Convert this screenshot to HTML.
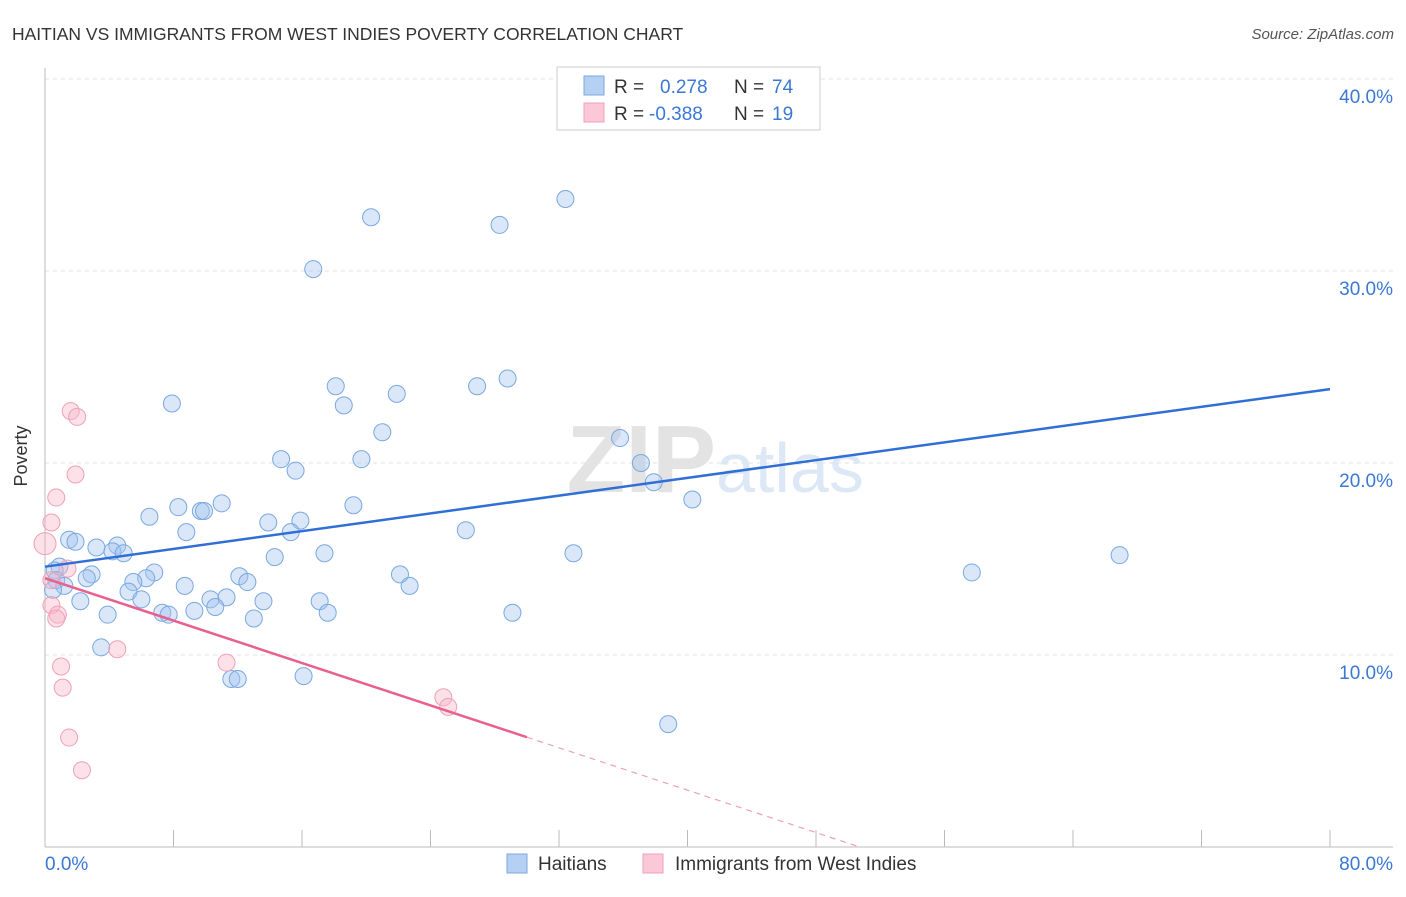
<!DOCTYPE html>
<html><head><meta charset="utf-8"><style>
body{margin:0;background:#fff;font-family:"Liberation Sans",sans-serif;}
svg text{font-family:"Liberation Sans",sans-serif;}
</style></head><body>
<svg id="chart" width="1406" height="892" viewBox="0 0 1406 892">
<text x="12" y="40" font-size="17.5" fill="#333">HAITIAN VS IMMIGRANTS FROM WEST INDIES POVERTY CORRELATION CHART</text>
<text x="1394" y="39" font-size="15" fill="#555" text-anchor="end" font-style="italic">Source: ZipAtlas.com</text>
<text x="716" y="492" font-size="96" fill="#e3e3e3" text-anchor="end" font-family="Liberation Serif" font-weight="bold">ZIP</text>
<text x="716" y="492" font-size="70" fill="#dde8f6">atlas</text>
<g id="grid"></g>
<g id="axes"></g>
<g id="marks"></g>
<g>
<rect x="557" y="67" width="263" height="63" fill="#fff" stroke="#ccc"/>
<rect x="584" y="76" width="20" height="19" fill="#b6d0f4" stroke="#7aa8e0"/>
<rect x="584" y="103" width="20" height="19" fill="#fac8d6" stroke="#f0a0b8"/>
<text x="614" y="93" font-size="19" fill="#333">R = </text><text x="660" y="93" font-size="19" fill="#3a78d4">0.278</text>
<text x="734" y="93" font-size="19" fill="#333">N = </text><text x="772" y="93" font-size="19" fill="#3a78d4">74</text>
<text x="614" y="120" font-size="19" fill="#333">R = </text><text x="649" y="120" font-size="19" fill="#3a78d4">-0.388</text>
<text x="734" y="120" font-size="19" fill="#333">N = </text><text x="772" y="120" font-size="19" fill="#3a78d4">19</text>
</g>
<g>
<rect x="507" y="854" width="20" height="19" fill="#b6d0f4" stroke="#7aa8e0"/>
<text x="538" y="870" font-size="19" fill="#333">Haitians</text>
<rect x="643" y="854" width="20" height="19" fill="#fac8d6" stroke="#f0a0b8"/>
<text x="675" y="870" font-size="19" fill="#333">Immigrants from West Indies</text>
</g>
<text x="27" y="456" font-size="18" fill="#333" text-anchor="middle" transform="rotate(-90 27 456)">Poverty</text>
</svg>
<script>
const blueX=[32.4,20.3,28.3,16.7,18.1,28.8,26.9,21.9,18.6,7.9,21.0,35.8,14.7,19.7,37.1,15.6,37.9,40.3,11.0,8.3,9.7,9.9,19.2,6.5,13.9,15.9,15.3,26.2,8.8,1.5,1.9,3.2,4.5,4.2,4.9,17.4,32.9,66.9,14.3,0.9,0.6,2.9,6.8,2.6,6.3,12.1,22.1,57.7,5.5,0.7,12.6,1.2,8.7,22.7,0.5,5.2,2.2,6.0,10.3,11.3,13.6,17.1,10.6,7.3,7.7,9.3,3.9,17.6,29.1,13.0,3.5,11.6,12.0,16.1,38.8];
const blueY=[33.75,32.8,32.4,30.1,24.0,24.4,24.0,23.6,23.0,23.1,21.6,21.3,20.2,20.2,20.0,19.6,19.0,18.1,17.9,17.7,17.5,17.5,17.8,17.2,16.9,17.0,16.4,16.5,16.4,16.0,15.9,15.6,15.7,15.4,15.3,15.3,15.3,15.2,15.1,14.6,14.4,14.2,14.3,14.0,14.0,14.1,14.2,14.3,13.8,13.9,13.8,13.6,13.6,13.6,13.4,13.3,12.8,12.9,12.9,13.0,12.8,12.8,12.5,12.2,12.1,12.3,12.1,12.2,12.2,11.9,10.4,8.75,8.75,8.9,6.4];
const pinkX=[1.6,2.0,1.9,0.7,0.4,0.0,1.4,0.4,0.4,0.8,0.7,4.5,11.3,1.0,1.1,24.8,25.1,1.5,2.3];
const pinkY=[22.7,22.4,19.4,18.2,16.9,15.8,14.5,13.9,12.6,12.1,11.9,10.3,9.6,9.4,8.3,7.8,7.3,5.7,4.0];
const blueTrend=[14.6,23.85];
const pinkTrend=[14.0,-0.276];
const yTicks=[10,20,30,40];
const xTicks=[0,8,16,24,32,40,48,56,64,72,80];
const NS="http://www.w3.org/2000/svg";
const sx=v=>45+v*1285/80, sy=v=>847-v*19.2;
function mk(tag,attrs,parent){const e=document.createElementNS(NS,tag);for(const k in attrs)e.setAttribute(k,attrs[k]);document.getElementById(parent).appendChild(e);return e;}
yTicks.forEach(t=>{
 const g=mk('line',{x1:45,x2:1393,y1:sy(t),y2:sy(t),stroke:'#e2e2e2','stroke-dasharray':'4,4'},'grid');
 
 
 const l=mk('text',{x:1393,y:sy(t)+24,'font-size':19,fill:'#3a78d4','text-anchor':'end'},'axes');
 l.textContent=t.toFixed(1)+'%';
 
 
});
mk('line',{x1:45,x2:45,y1:68,y2:847,stroke:'#bbb'},'axes');
mk('line',{x1:45,x2:1393,y1:847,y2:847,stroke:'#bbb'},'axes');
xTicks.forEach(t=>{
 const k=mk('line',{x1:sx(t),x2:sx(t),y1:830,y2:847,stroke:'#bbb'},'axes');
 
 
});
[[0,'start',45],[80,'end',1393]].forEach(([v,a,x])=>{
 const l=mk('text',{x:x,y:870,'font-size':19,fill:'#3a78d4','text-anchor':a},'axes');
 l.textContent=v.toFixed(1)+'%';
 
 
});
blueX.forEach((x,i)=>{
 const c=mk('circle',{cx:sx(x),cy:sy(blueY[i]),r:8.5,fill:'rgba(160,196,240,0.4)',stroke:'#7aa8e0','stroke-width':1},'marks');
 
 
});
pinkX.forEach((x,i)=>{
 const c=mk('circle',{cx:sx(x),cy:sy(pinkY[i]),r:i==5?11:8.5,fill:'rgba(248,180,200,0.4)',stroke:'#f0a0b8','stroke-width':1},'marks');
 
 
});
let bt=mk('line',{x1:sx(0),y1:sy(blueTrend[0]),x2:sx(80),y2:sy(blueTrend[1]),stroke:'#2f6fd6','stroke-width':2.5},'marks');


const pEnd=30, pZero=-pinkTrend[0]/pinkTrend[1];
let pt=mk('line',{x1:sx(0),y1:sy(pinkTrend[0]),x2:sx(pEnd),y2:sy(pinkTrend[0]+pinkTrend[1]*pEnd),stroke:'#e8608e','stroke-width':2.5},'marks');


let pd=mk('line',{x1:sx(pEnd),y1:sy(pinkTrend[0]+pinkTrend[1]*pEnd),x2:sx(pZero),y2:sy(0),stroke:'#f0a0b8','stroke-width':1.2,'stroke-dasharray':'6,5'},'marks');


</script>
</body></html>
